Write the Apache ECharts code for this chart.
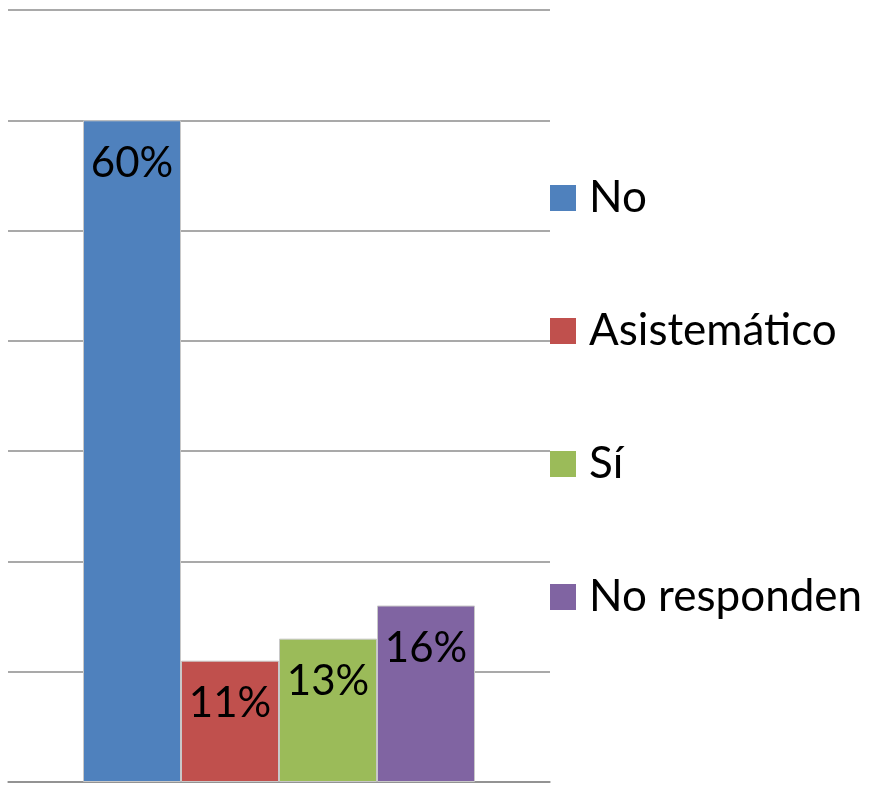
<!DOCTYPE html>
<html>
<head>
<meta charset="utf-8">
<script src="https://cdn.jsdelivr.net/npm/echarts@6/dist/echarts.min.js"></script>
<style>html,body{margin:0;padding:0;background:#fff}#c{width:870px;height:785px}</style>
</head>
<body>
<div id="c"></div>
<script>
const categories = [''];
const seriesNames = ['No', 'Asistemático', 'Sí', 'No responden'];
const seriesValues = [[60], [11], [13], [16]];
const seriesColors = ['#4F81BD', '#C0504D', '#9BBB59', '#8064A2'];
const yTicks = [0, 10, 20, 30, 40, 50, 60, 70];

const FONT = 'Lato';
const chart = echarts.init(document.getElementById('c'), null, {renderer: 'canvas'});
chart.setOption({
  animation: false,
  backgroundColor: '#fff',
  grid: {left: 8, right: 320, top: 10, bottom: 3, containLabel: false},
  legend: {
    orient: 'vertical', left: 545, top: 171,
    itemWidth: 26, itemHeight: 26, itemGap: 89,
    icon: 'rect',
    itemStyle: {borderWidth: 0},
    textStyle: {fontFamily: FONT, fontSize: 44, color: '#000', padding: [0,0,0,8]},
    data: seriesNames
  },
  xAxis: {
    type: 'category', data: categories,
    axisLine: {show: true, lineStyle: {color: '#8c8c8c', width: 1.5}},
    axisTick: {show: false}, axisLabel: {show: false}
  },
  yAxis: {
    type: 'value', min: yTicks[0], max: yTicks[yTicks.length-1], interval: 10,
    axisLine: {show: false}, axisTick: {show: false}, axisLabel: {show: false},
    splitLine: {lineStyle: {color: '#8c8c8c', width: 1.5}}
  },
  series: seriesNames.map((n, i) => ({
    name: n, type: 'bar', data: seriesValues[i],
    barWidth: 98, barGap: '0%',
    itemStyle: {color: seriesColors[i], borderColor: '#c8c8c8', borderWidth: 1},
    label: {show: true, position: 'insideTop', distance: 22, formatter: '{c}%',
      fontFamily: FONT, fontSize: 42, color: '#000'}
  }))
});
</script>
</body>
</html>
